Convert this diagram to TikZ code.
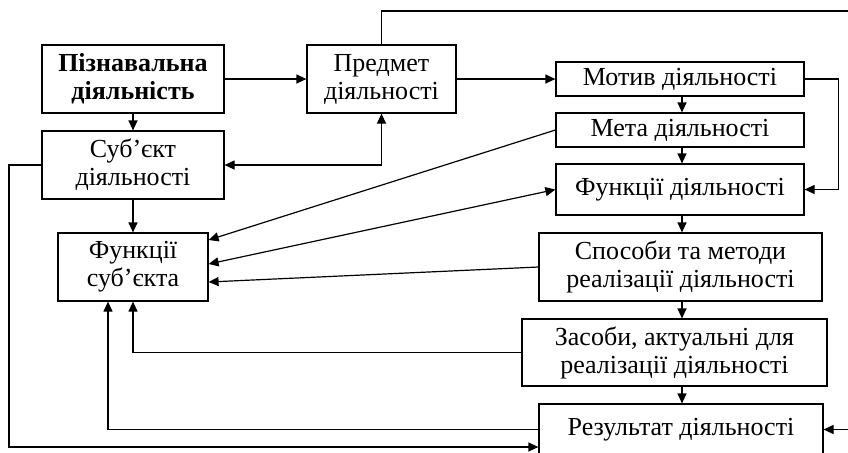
\documentclass[tikz,border=0pt]{standalone}
\usepackage{fontspec}
\setmainfont{Liberation Serif}
\usetikzlibrary{arrows.meta,calc}
\begin{document}
\begin{tikzpicture}[x=0.5pt,y=-0.5pt,
  line width=0.6pt,
  box/.style={draw,inner sep=0pt,align=center,font=\fontsize{13}{14}\selectfont},
  arr/.style={-{Triangle[length=5pt,width=4.5pt]}},
  arrb/.style={{Triangle[length=5pt,width=4.5pt]}-{Triangle[length=5pt,width=4.5pt]}}]
\useasboundingbox (0,0) rectangle (848,452);
\clip (0,0) rectangle (848,452);
% left column
\node[box,minimum width=91pt,minimum height=34pt,font=\fontsize{13}{14}\selectfont\bfseries] (pz) at (133,79) {Пізнавальна\\діяльність};
\node[box,minimum width=91pt,minimum height=34pt] (sub) at (133,165) {Суб’єкт\\діяльності};
\node[box,minimum width=75pt,minimum height=34pt] (fs) at (133,267) {Функції\\суб’єкта};
% middle
\node[box,minimum width=74.5pt,minimum height=34pt] (pred) at (381.5,79) {Предмет\\діяльності};
% right column
\node[box,minimum width=124pt,minimum height=17pt] (mot) at (680,79) {Мотив діяльності};
\node[box,minimum width=124pt,minimum height=17pt] (meta) at (680,130) {Мета діяльності};
\node[box,minimum width=124pt,minimum height=25.5pt] (fd) at (680,189.5) {Функції діяльності};
\node[box,minimum width=141.5pt,minimum height=34pt] (spos) at (680.5,267) {Способи та методи\\реалізації діяльності};
\node[box,minimum width=152.5pt,minimum height=33.5pt] (zas) at (674.5,352.5) {Засоби, актуальні для\\реалізації діяльності};
\node[box,minimum width=142pt,minimum height=25.5pt] (res) at (681,429.5) {Результат діяльності};
% coordinates
\coordinate (lb) at (9,447);
\coordinate (tr) at (870,11);
% connectors
\draw[arr] (pz) -- (pred);
\draw[arr] (pred) -- (mot);
\draw[arr] (pz) -- (sub);
\draw[arr] (sub) -- (fs);
\draw[arr] (mot.south -| 682,0) -- (meta.north -| 682,0);
\draw[arr] (meta.south -| 682,0) -- (fd.north -| 682,0);
\draw[arr] (fd.south -| 682,0) -- (spos.north -| 682,0);
\draw[arr] (spos.south -| 682,0) -- (zas.north -| 682,0);
\draw[arr] (zas.south -| 682,0) -- (res.north -| 682,0);
\draw[arrb] (sub.east) -| (pred.south);
\draw[arr] (mot.east) -- ++(34,0) |- (fd.east);
\draw[arr] (pred.north) |- (tr) |- (res.east);
\draw[arr] (sub.west) -| (lb) -- (lb -| res.west);
\draw[arr] (res.west) -| ($(fs.south)+(-25,0)$);
\draw[arr] (zas.west) -| (fs.south);
\draw[arr] (meta.west) -- ($(fs.east)+(0,-27)$);
\draw[arrb] (fd.west) -- ($(fs.east)+(0,-3)$);
\draw[arr] (spos.west) -- ($(fs.east)+(0,15)$);
\end{tikzpicture}
\end{document}
